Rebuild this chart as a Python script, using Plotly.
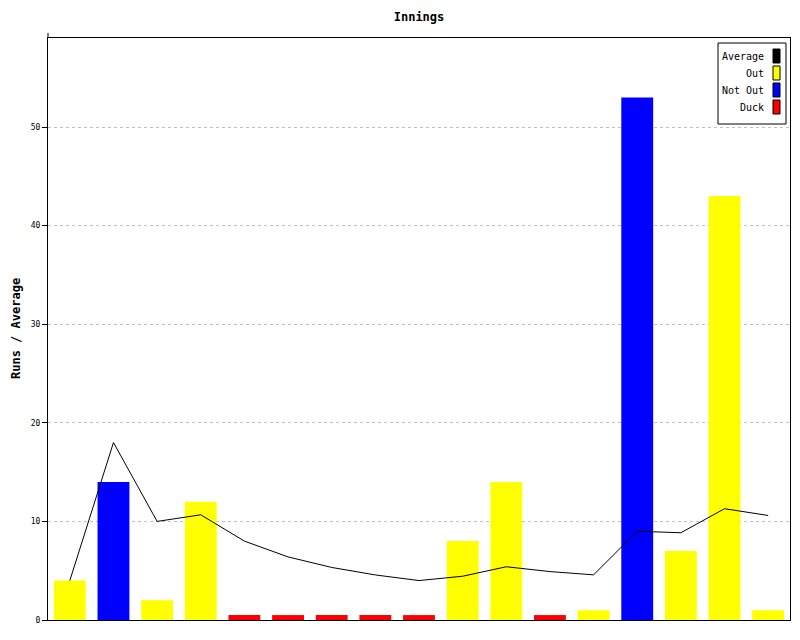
import plotly.graph_objects as go

innings = list(range(1, 18))
# drawn bar heights (ducks drawn as a small stub)
bar_values = [4, 14, 2, 12, 0.5, 0.5, 0.5, 0.5, 0.5, 8, 14, 0.5, 1, 53, 7, 43, 1]
status = ["Out", "Not Out", "Out", "Out", "Duck", "Duck", "Duck", "Duck", "Duck",
          "Out", "Out", "Duck", "Out", "Not Out", "Out", "Out", "Out"]
averages = [4, 18, 10, 10.67, 8, 6.4, 5.33, 4.57, 4, 4.44, 5.4, 4.91, 4.58, 9.0, 8.85, 11.29, 10.6]
y_ticks = [0, 10, 20, 30, 40, 50]

colors = {"Out": "#ffff00", "Not Out": "#0000ff", "Duck": "#ff0000", "Average": "#000000"}
legend_order = ["Average", "Out", "Not Out", "Duck"]

FONT = "DejaVu Sans Mono"

# page body adds an 8px offset; work in screen pixels and shift
OFF = 8
W, H = 800, 640
L_s, R_s, T_s, B_s = 48, 790, 38, 620  # plot area in screen pixels
L = L_s - OFF
T = T_s - OFF
R = W - (R_s - OFF)
B = H - (B_s - OFF)
pw, ph = W - L - R, H - T - B

def px_to_paper(x, y):
    return (x - OFF - L) / pw, 1 - (y - OFF - T) / ph

fig = go.Figure()
fig.add_trace(go.Bar(
    x=innings, y=bar_values,
    marker=dict(color=[colors[s] for s in status], line=dict(width=0)),
    width=0.73, showlegend=False, hoverinfo="skip",
))
fig.add_trace(go.Scatter(
    x=innings, y=averages, mode="lines",
    line=dict(color="black", width=1), showlegend=False, hoverinfo="skip",
))

shapes = []
annotations = []
x0, y0 = px_to_paper(718, 43)
x1, y1 = px_to_paper(786, 124)
shapes.append(dict(type="rect", xref="paper", yref="paper", x0=x0, y0=y1, x1=x1, y1=y0,
                   line=dict(color="black", width=1), fillcolor="white", layer="above"))
for i, name in enumerate(legend_order):
    cy = 56 + i * 17
    sx0, sy0 = px_to_paper(773, cy - 7)
    sx1, sy1 = px_to_paper(780, cy + 7)
    shapes.append(dict(type="rect", xref="paper", yref="paper", x0=sx0, y0=sy1, x1=sx1, y1=sy0,
                       line=dict(color="black", width=1), fillcolor=colors[name], layer="above"))
    tx, ty = px_to_paper(766, cy)
    annotations.append(dict(text=name, xref="paper", yref="paper", x=tx, y=ty,
                            xanchor="right", yanchor="middle", showarrow=False,
                            font=dict(family=FONT, size=10, color="black")))

# y-axis title
yx, yy = px_to_paper(16, 329)
annotations.append(dict(text="<b>Runs / Average</b>", xref="paper", yref="paper", x=yx, y=yy,
                        xanchor="center", yanchor="middle", textangle=-90, showarrow=False,
                        borderpad=0,
                        font=dict(family=FONT, size=12, color="black")))

# left axis extends a little above the frame
ax0, ay0 = px_to_paper(48, 38)
ax1, ay1 = px_to_paper(48, 33)
shapes.append(dict(type="line", xref="paper", yref="paper", x0=0, y0=ay0, x1=0, y1=ay1,
                   line=dict(color="black", width=1)))

fig.update_layout(
    width=W, height=H,
    margin=dict(l=L, r=R, t=T, b=B, autoexpand=False),
    paper_bgcolor="white", plot_bgcolor="white",
    title=dict(text="<b>Innings</b>", x=(L + pw / 2) / W, xanchor="center",
               y=1 - (17 - OFF) / H, yanchor="middle",
               font=dict(family=FONT, size=12, color="black")),
    font=dict(family=FONT, color="black"),
    shapes=shapes, annotations=annotations,
)
fig.update_xaxes(range=[0.5, 17.5], showticklabels=False, ticks="", showgrid=False,
                 showline=True, linecolor="black", linewidth=1, mirror=True, zeroline=False,
                 automargin=False)
fig.update_yaxes(range=[0, 59.03], tickvals=y_ticks, ticks="outside", ticklen=5, tickcolor="black",
                 tickfont=dict(family=FONT, size=8, color="black"),
                 showgrid=True, gridcolor="#c0c0c0", griddash="3px,3px", gridwidth=1,
                 showline=True, linecolor="black", linewidth=1, mirror=True, zeroline=False,
                 automargin=False)

fig.write_html("out.html")
